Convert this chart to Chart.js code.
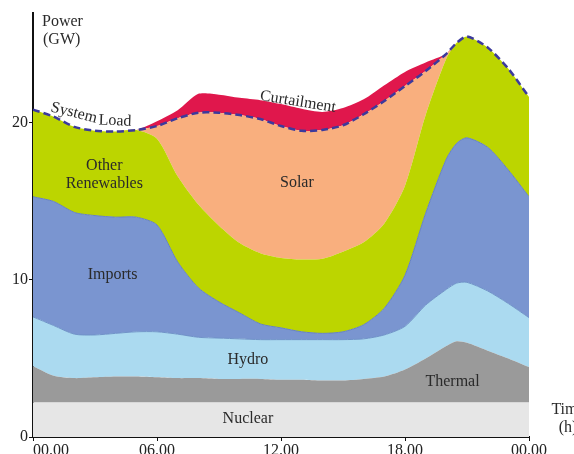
<!DOCTYPE html>
<html><head><meta charset="utf-8">
<script src="https://cdn.jsdelivr.net/npm/chart.js@4.4.1/dist/chart.umd.min.js"></script>
<style>html,body{margin:0;padding:0;background:#fff;}canvas{display:block;}</style>
</head><body>
<canvas id="c" width="574" height="454"></canvas>
<script>
// ---- data (GW) ----
const hours = [0,1,2,3,4,5,6,7,8,9,10,11,12,13,14,15,16,17,18,19,20,20.5,21,22,23,24];
const xTicks = [0,6,12,18,24];
const xTickLabels = ['00.00','06.00','12.00','18.00','00.00'];
const yTicks = [0,10,20];

const nuclear = [2.2,2.2,2.2,2.2,2.2,2.2,2.2,2.2,2.2,2.2,2.2,2.2,2.2,2.2,2.2,2.2,2.2,2.2,2.2,2.2,2.2,2.2,2.2,2.2,2.2,2.2];
const thermal = [2.3,1.7,1.55,1.6,1.65,1.65,1.6,1.55,1.55,1.5,1.5,1.5,1.45,1.45,1.4,1.4,1.5,1.65,2.1,2.8,3.6,3.9,3.8,3.3,2.8,2.25];
const hydro   = [3.15,3.2,2.8,2.7,2.75,2.85,2.9,2.8,2.6,2.6,2.55,2.5,2.55,2.55,2.6,2.6,2.55,2.65,2.75,3.4,3.6,3.7,3.85,3.8,3.5,3.15];
const imports = [7.65,7.9,7.75,7.6,7.4,7.3,6.8,4.6,3.15,2.3,1.65,1.0,0.75,0.5,0.4,0.5,0.9,1.7,3.25,5.85,8.3,8.9,9.2,9.15,8.5,7.7];
const otherRenewables = [5.55,5.4,5.45,5.4,5.45,5.55,5.5,5.45,5.3,4.85,4.45,4.5,4.45,4.6,4.75,5.1,5.25,5.4,5.7,6.25,6.4,6.4,6.45,6.35,6.45,6.35];
const solar   = [0,0,0,0,0,0,0.8,3.7,5.85,7.2,8.15,8.55,8.4,8.2,8.2,8.05,8.15,7.8,6.35,2.8,0.3,0,0,0,0,0];
const curtailment = [0,0,0,0,0,0,0.3,0.5,1.2,1.15,1.1,1.2,1.4,1.4,1.15,1.1,0.95,1.0,0.9,0.55,0,0,0,0,0,0];
const systemLoad = [20.85,20.4,19.75,19.5,19.45,19.55,19.8,20.3,20.65,20.65,20.5,20.25,19.8,19.5,19.55,19.85,20.55,21.4,22.35,23.3,24.4,25.1,25.5,24.8,23.45,21.65];

const pts = arr => hours.map((h,i)=>({x:h,y:arr[i]}));
const FONT = '"Liberation Serif","DejaVu Serif",serif';

function area(label, arr, color, fill, border, bw){
  return {label, data:pts(arr), backgroundColor:color, borderColor:border||color,
    borderWidth:bw||0, fill, pointRadius:0, tension:0.25, stack:'gen'};
}

const datasets = [
  area('Nuclear', nuclear, '#e6e6e6', 'origin'),
  area('Thermal', thermal, '#9a9a9a', '-1'),
  area('Hydro', hydro, '#abdaf0', '-1', '#6f93c8', 1),
  area('Imports', imports, '#7a95d0', '-1', '#6682c0', 1),
  area('Other Renewables', otherRenewables, '#bcd500', '-1'),
  area('Solar', solar, '#f9af7e', '-1'),
  area('Curtailment', curtailment, '#e0174c', '-1'),
  {label:'System Load', data:pts(systemLoad), borderColor:'#3c3a9c', borderWidth:2.5,
   borderDash:[7,4], fill:false, pointRadius:0, tension:0.25, stack:'load', order:-1}
];

const textPlugin = {
  id:'texts',
  afterDraw(chart){
    const ctx = chart.ctx, xs = chart.scales.x, ys = chart.scales.y, ca = chart.chartArea;
    const items = [
      {t:'Other', h:3.45, v:17.3},
      {t:'Renewables', h:3.45, v:16.15},
      {t:'Imports', h:3.85, v:10.3},
      {t:'Solar', h:12.77, v:16.2},
      {t:'Hydro', h:10.4, v:4.9},
      {t:'Thermal', h:20.3, v:3.5},
      {t:'Nuclear', h:10.4, v:1.15},
      {t:'Curtailment', h:12.82, v:21.34, rot:9},
      {t:'System', h:1.98, v:20.64, rot:14},
      {t:'Load', h:3.97, v:20.13, rot:2}
    ];
    ctx.save();
    ctx.font = '16px ' + FONT;
    ctx.fillStyle = '#2a2a2a';
    ctx.textAlign = 'center';
    ctx.textBaseline = 'middle';
    items.forEach(it=>{
      const px = xs.getPixelForValue(it.h), py = ys.getPixelForValue(it.v);
      ctx.save();
      ctx.translate(px, py);
      if (it.rot) ctx.rotate(it.rot*Math.PI/180);
      ctx.fillText(it.t, 0, 0);
      ctx.restore();
    });
    // axis titles
    ctx.textAlign = 'left';
    ctx.fillText('Power', ca.left + 9, ca.top + 9);
    ctx.fillText('(GW)', ca.left + 10, ca.top + 27);
    ctx.textAlign = 'center';
    ctx.fillText('Time', ca.right + 39, ca.bottom - 27);
    ctx.fillText('(h)', ca.right + 39, ca.bottom - 9);
    ctx.restore();
  }
};

new Chart(document.getElementById('c'), {
  type:'line',
  data:{datasets},
  plugins:[textPlugin],
  options:{
    responsive:false,
    animation:false,
    layout:{padding:{left:0, right:45, top:13, bottom:0}},
    plugins:{legend:{display:false}, tooltip:{enabled:false}},
    scales:{
      x:{
        type:'linear', min:0, max:24,
        afterBuildTicks(s){ s.ticks = xTicks.map(v=>({value:v})); },
        afterFit(s){ s.height = 17; s.paddingLeft = 0; s.paddingRight = 0; },
        ticks:{
          font:{family:FONT, size:16}, color:'#222', padding:0, maxRotation:0, autoSkip:false,
          callback(v){ const i = xTicks.indexOf(v); const l = i>=0 ? xTickLabels[i] : '';
            return i===0 ? '\u00a0\u00a0\u00a0\u00a0\u00a0\u00a0\u00a0\u00a0\u00a0' + l : l; }
        },
        grid:{drawOnChartArea:false, drawTicks:true, tickLength:4, tickColor:'#111', lineWidth:1},
        border:{display:true, color:'#111', width:2}
      },
      y:{
        stacked:true, min:0, max:27,
        afterBuildTicks(s){ s.ticks = yTicks.map(v=>({value:v})); },
        afterFit(s){ s.width = 33; s.paddingTop = 0; s.paddingBottom = 0; },
        ticks:{font:{family:FONT, size:16}, color:'#222', padding:1},
        grid:{drawOnChartArea:false, drawTicks:true, tickLength:4, tickColor:'#111', lineWidth:1},
        border:{display:true, color:'#111', width:2}
      }
    }
  }
});
</script>
</body></html>
